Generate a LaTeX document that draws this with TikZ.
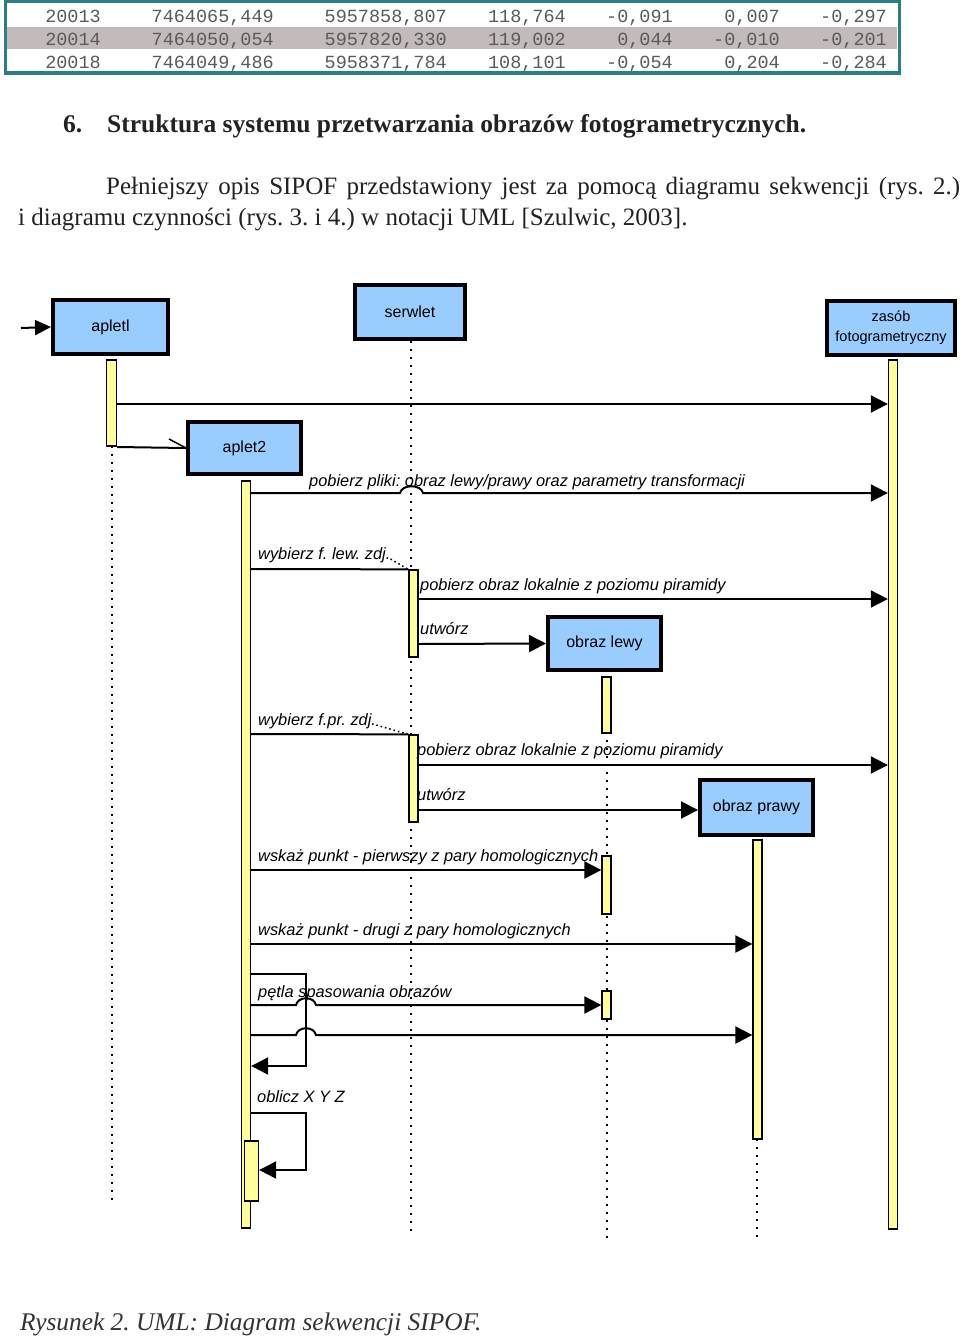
\documentclass[tikz,border=0pt]{standalone}
\usepackage{fontspec}
\setmainfont{Liberation Serif}
\newfontfamily\diagfont{Liberation Sans}
\newfontfamily\tabfont{Liberation Mono}
\usetikzlibrary{arrows.meta}
\definecolor{boxblue}{HTML}{99CCFF}
\definecolor{baryellow}{HTML}{FFFF99}
\definecolor{tealframe}{HTML}{2B7F82}
\definecolor{rowgray}{HTML}{C3BBBB}
\definecolor{tabtext}{HTML}{5A5A5A}
\definecolor{bodytext}{HTML}{222222}
\frenchspacing
\begin{document}
\begin{tikzpicture}[x=1pt,y=-1pt,
  obj/.style={draw, line width=4pt, fill=boxblue, inner sep=0pt, font=\diagfont\fontsize{16}{17}\selectfont, align=center},
  act/.style={draw, line width=1.3pt, fill=baryellow, inner sep=0pt, minimum width=9pt},
  life/.style={line width=2pt, dash pattern=on 2pt off 6pt},
  lifelink/.style={line width=1.5pt, dash pattern=on 1.5pt off 3pt},
  msg/.style={line width=2pt, -{Triangle[length=17pt,width=17pt]}},
  plainmsg/.style={line width=2pt},
  lab/.style={font=\diagfont\itshape\fontsize{16.4}{18}\selectfont, anchor=base west, inner sep=0pt},
  tcell/.style={font=\tabfont\fontsize{18.5}{20}\selectfont, text=tabtext, anchor=base east, inner sep=0pt},
  para/.style={font=\fontsize{25}{29}\selectfont, text=bodytext, anchor=base west, inner sep=0pt},
]
\useasboundingbox (0,0) rectangle (960,1338);
\fill[white] (0,0) rectangle (960,1338);

% ---------- table ----------
\fill[rowgray] (7,27) rectangle (897,49);
\draw[tealframe, line width=3pt] (5,2) rectangle (899,73);
\node[tcell] (t11) at (101,23) {20013};
\node[tcell] (t12) at (274,23) {7464065,449};
\node[tcell] (t13) at (447,23) {5957858,807};
\node[tcell] (t14) at (566,23) {118,764};
\node[tcell] (t15) at (673,23) {-0,091};
\node[tcell] (t16) at (780,23) {0,007};
\node[tcell] (t17) at (887,23) {-0,297};
\node[tcell] (t21) at (101,46) {20014};
\node[tcell] (t22) at (274,46) {7464050,054};
\node[tcell] (t23) at (447,46) {5957820,330};
\node[tcell] (t24) at (566,46) {119,002};
\node[tcell] (t25) at (673,46) {0,044};
\node[tcell] (t26) at (780,46) {-0,010};
\node[tcell] (t27) at (887,46) {-0,201};
\node[tcell] (t31) at (101,68) {20018};
\node[tcell] (t32) at (274,68) {7464049,486};
\node[tcell] (t33) at (447,68) {5958371,784};
\node[tcell] (t34) at (566,68) {108,101};
\node[tcell] (t35) at (673,68) {-0,054};
\node[tcell] (t36) at (780,68) {0,204};
\node[tcell] (t37) at (887,68) {-0,284};

% ---------- text ----------
\node[para, font=\bfseries\fontsize{25.5}{29}\selectfont] (hnum) at (63,132) {6.};
\node[para, font=\bfseries\fontsize{25.5}{29}\selectfont] (htitle) at (107,132) {Struktura systemu przetwarzania obrazów fotogrametrycznych.};
\node[para] (p1) at (106,194) {\makebox[854pt][s]{Pełniejszy opis SIPOF przedstawiony jest za pomocą diagramu sekwencji (rys. 2.)}};
\node[para] (p2) at (18,225) {i diagramu czynności (rys. 3. i 4.) w notacji UML [Szulwic, 2003].};
\node[para, font=\itshape\fontsize{25.4}{29}\selectfont, text=black!80] (cap) at (20,1330) {Rysunek 2. UML: Diagram sekwencji SIPOF.};

% ---------- objects ----------
\node[obj, minimum width=115pt, minimum height=54pt] (apl1) at (110.5,327) {apletl};
\node[obj, minimum width=110pt, minimum height=54pt] (srv) at (410,312) {serwlet};
\node[obj, minimum width=128pt, minimum height=54pt, font=\diagfont\fontsize{14.5}{17}\selectfont] (zas) at (891,328) {zasób\\[3pt]fotogrametryczny};
\node[obj, minimum width=113pt, minimum height=52pt] (apl2) at (244.5,448) {aplet2};
\node[obj, minimum width=113pt, minimum height=53pt] (olew) at (604.5,643.5) {obraz lewy};
\node[obj, minimum width=113pt, minimum height=55pt] (opraw) at (756.5,807.5) {obraz prawy};

% ---------- lifelines ----------
\coordinate (l1end) at (112,1205);
\coordinate (lsend) at (411,1232);
\coordinate (llend) at (607,1240);
\coordinate (lpend) at (757,1240);
\draw[life] (112,446) -- (l1end);
\draw[life] (srv.south -| lsend) -- (lsend);
\draw[life] (607,676) -- (llend);
\draw[life] (757,1139) -- (lpend);

% ---------- activation bars ----------
\node[act, minimum height=86pt, minimum width=10pt] (b1) at (111.5,403) {};
\node[act, minimum height=869pt] (bz) at (893,794.5) {};
\node[act, minimum height=747pt] (b2) at (246,854.5) {};
\node[act, minimum height=87pt] (bs1) at (413.5,613.5) {};
\node[act, minimum height=87pt] (bs2) at (413.5,778.5) {};
\node[act, minimum height=56pt] (bl1) at (606.5,705) {};
\node[act, minimum height=58pt] (bl2) at (606.5,885) {};
\node[act, minimum height=28pt] (bl3) at (606.5,1005) {};
\node[act, minimum height=299pt] (bp) at (757.5,989.5) {};
\node[act, minimum height=60pt, minimum width=14pt] (bn) at (251.5,1171) {};

% ---------- entry ----------
\coordinate (entry) at (21,328);
\draw[line width=2pt, -{Triangle[length=16pt,width=15pt]}] (entry) -- (apl1.west);

% ---------- messages ----------
\draw[msg] (b1.east |- 0,404) -- (bz.west |- 0,404);
\draw[plainmsg] (b1.east |- 0,447) -- (apl2.west);
\draw[line width=1.5pt] (apl2.west) -- ++(-17,-9);

\node[lab] (m3) at (309,486) {pobierz pliki: obraz lewy/prawy oraz parametry transformacji};
\draw[msg] (b2.east |- 0,493) -- (400,493) .. controls (402,484) and (421,484) .. (423,493) -- (bz.west |- 0,493);

\node[lab] (m4) at (258,559) {wybierz f. lew. zdj.};
\draw[plainmsg] (b2.east |- 0,569) -- (bs1.north west);
\draw[lifelink] (m4.base east) -- (bs1.north west);

\node[lab] (m5) at (420,590) {pobierz obraz lokalnie z poziomu piramidy};
\draw[msg] (bs1.east |- 0,599) -- (bz.west |- 0,599);

\node[lab] (m6) at (420,634) {utwórz};
\draw[msg] (bs1.east |- 0,644) -- (olew.west);

\node[lab] (m7) at (258,725) {wybierz f.pr. zdj.};
\draw[plainmsg] (b2.east |- 0,734) -- (bs2.north west);
\draw[lifelink] (m7.base east) -- (bs2.north west);

\node[lab] (m8) at (417,755) {pobierz obraz lokalnie z poziomu piramidy};
\draw[msg] (bs2.east |- 0,765) -- (bz.west |- 0,765);

\node[lab] (m9) at (417,800) {utwórz};
\draw[msg] (bs2.east |- 0,810) -- (opraw.west |- 0,810);

\node[lab] (m10) at (258,861) {wskaż punkt - pierwszy z pary homologicznych};
\draw[msg] (b2.east |- 0,870) -- (bl2.west |- 0,870);

\node[lab] (m11) at (258,935) {wskaż punkt - drugi z pary homologicznych};
\draw[msg] (b2.east |- 0,944) -- (bp.west |- 0,944);

% loop
\coordinate (lp) at (306,974);
\node[lab] (m12) at (258,997) {pętla spasowania obrazów};
\draw[msg] (b2.east |- lp) -- (lp) -- (lp |- 0,1066) -- (b2.east |- 0,1066);
\draw[msg] (b2.east |- 0,1005) -- (296,1005) .. controls (298,996) and (314,996) .. (316,1005) -- (bl3.west |- 0,1005);
\draw[msg] (b2.east |- 0,1035) -- (296,1035) .. controls (298,1026) and (314,1026) .. (316,1035) -- (bp.west |- 0,1035);

% self call
\coordinate (sc) at (306,1113);
\node[lab] (m13) at (257,1102) {oblicz X Y Z};
\draw[msg] (b2.east |- sc) -- (sc) -- (sc |- 0,1170) -- (bn.east |- 0,1170);
\end{tikzpicture}
\end{document}
